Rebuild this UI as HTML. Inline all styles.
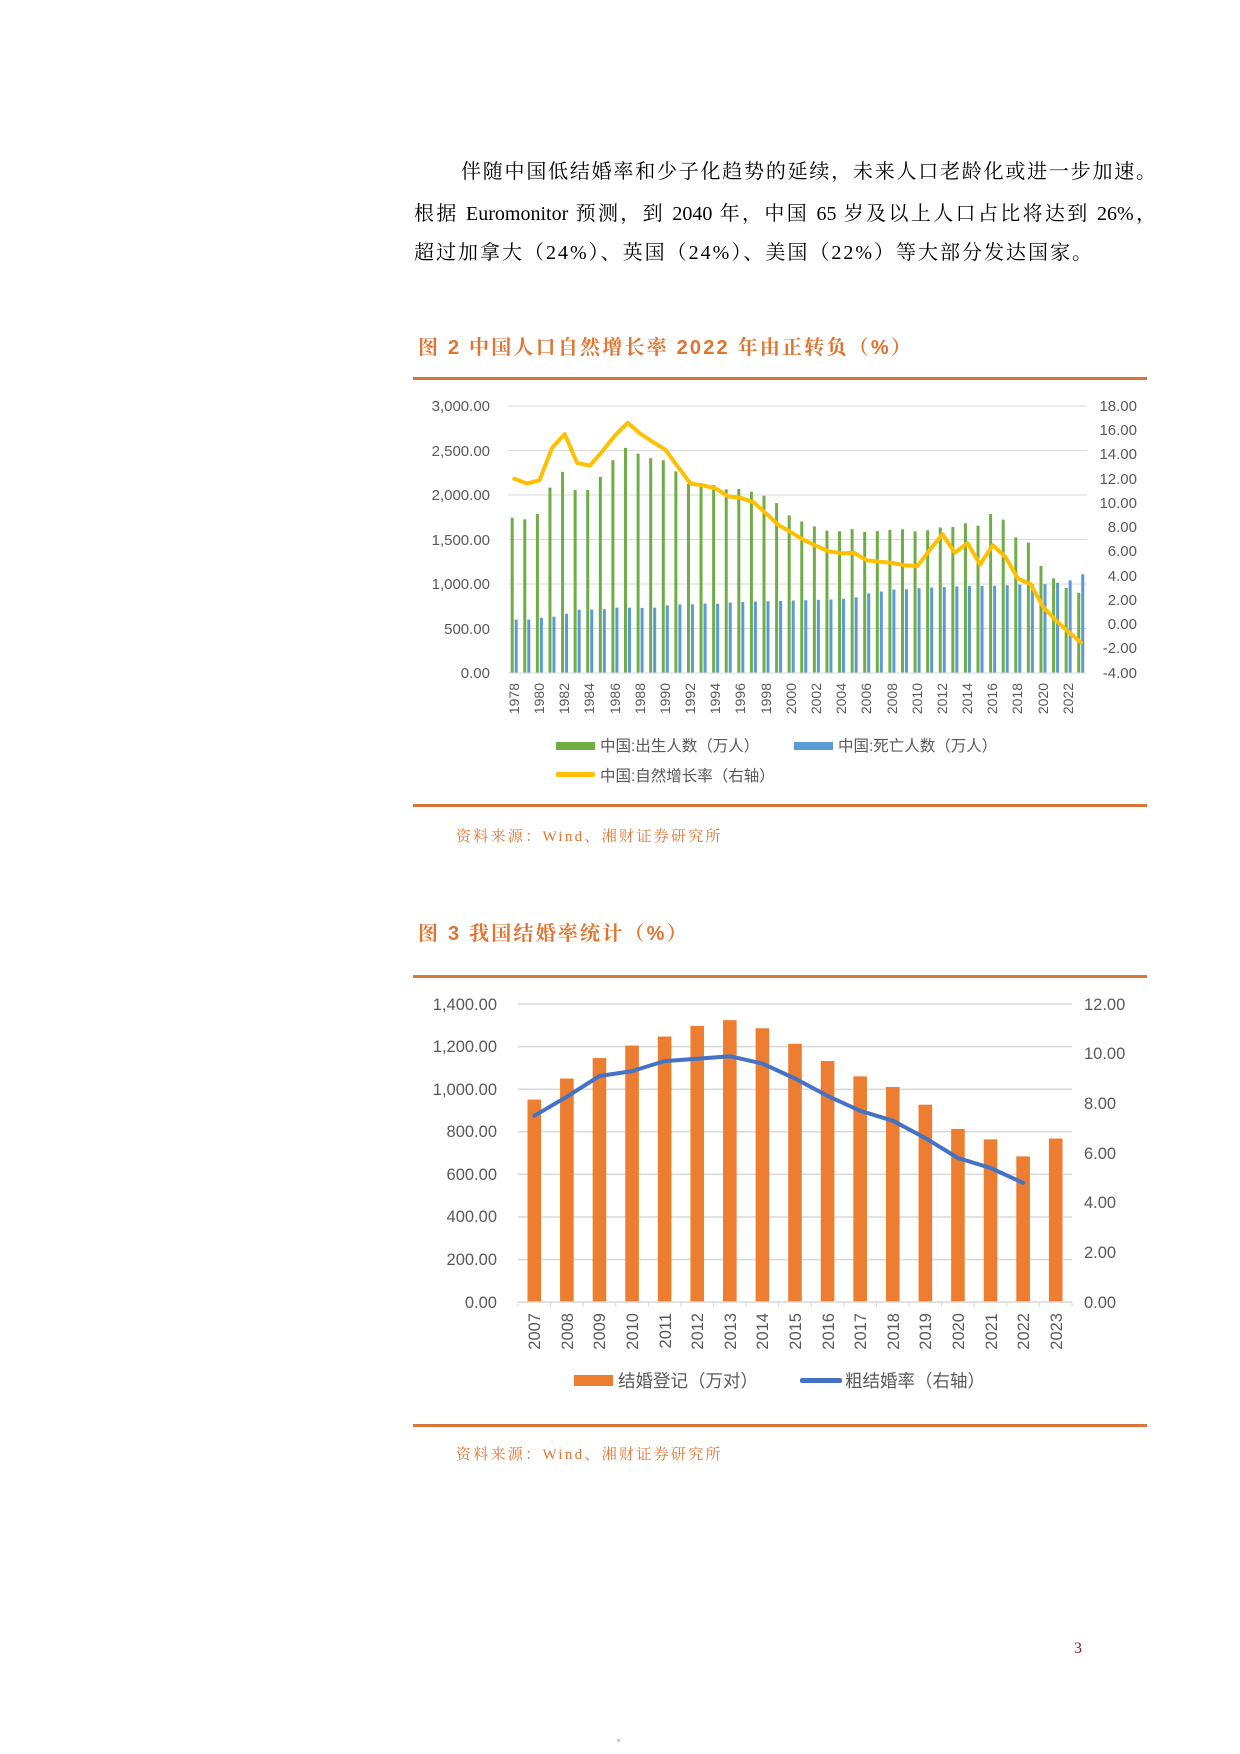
<!DOCTYPE html>
<html><head><meta charset="utf-8">
<style>
html,body{margin:0;padding:0;background:#fff;}
body{width:1240px;height:1754px;position:relative;overflow:hidden;}
.p{position:absolute;left:414px;width:742px;font-family:"Liberation Serif","Noto Serif CJK SC",serif;font-size:20px;color:#000;text-align:justify;text-align-last:justify;white-space:nowrap;}
svg{position:absolute;left:0;top:0;}
</style></head><body>
<div class="p" style="top:155px;left:461px;width:695px;">伴随中国低结婚率和少子化趋势的延续，未来人口老龄化或进一步加速。</div>
<div class="p" style="top:197px;">根据 Euromonitor 预测，到 2040 年，中国 65 岁及以上人口占比将达到 26%，</div>
<div class="p" style="top:236px;text-align-last:left;letter-spacing:2px;">超过加拿大（24%）、英国（24%）、美国（22%）等大部分发达国家。</div>

<svg id="s" width="1240" height="1754" xmlns="http://www.w3.org/2000/svg" font-family="Liberation Sans, Noto Sans CJK SC, sans-serif">
<text x="418" y="354" font-size="20" font-weight="bold" fill="#E07430" letter-spacing="2.2" font-family="Liberation Sans, Noto Serif CJK SC, serif">图 2 中国人口自然增长率 2022 年由正转负（%）</text>
<rect x="413" y="377" width="734" height="3" fill="#D9773A"/>
<g id="c1grid"></g>
<g font-size="15" fill="#595959" text-anchor="end">
<text x="490" y="411">3,000.00</text><text x="490" y="456">2,500.00</text><text x="490" y="500">2,000.00</text><text x="490" y="545">1,500.00</text><text x="490" y="589">1,000.00</text><text x="490" y="634">500.00</text><text x="490" y="678">0.00</text>
</g>
<g font-size="15" fill="#595959" text-anchor="end">
<text x="1137" y="411">18.00</text><text x="1137" y="435">16.00</text><text x="1137" y="459">14.00</text><text x="1137" y="484">12.00</text><text x="1137" y="508">10.00</text><text x="1137" y="532">8.00</text><text x="1137" y="556">6.00</text><text x="1137" y="581">4.00</text><text x="1137" y="605">2.00</text><text x="1137" y="629">0.00</text><text x="1137" y="653">-2.00</text><text x="1137" y="678">-4.00</text>
</g>
<g id="c1bars"></g>
<g font-size="14" fill="#595959" text-anchor="end">
<text transform="translate(519,683) rotate(-90)">1978</text><text transform="translate(544,683) rotate(-90)">1980</text><text transform="translate(569,683) rotate(-90)">1982</text><text transform="translate(594,683) rotate(-90)">1984</text><text transform="translate(620,683) rotate(-90)">1986</text><text transform="translate(645,683) rotate(-90)">1988</text><text transform="translate(670,683) rotate(-90)">1990</text><text transform="translate(695,683) rotate(-90)">1992</text><text transform="translate(720,683) rotate(-90)">1994</text><text transform="translate(745,683) rotate(-90)">1996</text><text transform="translate(771,683) rotate(-90)">1998</text><text transform="translate(796,683) rotate(-90)">2000</text><text transform="translate(821,683) rotate(-90)">2002</text><text transform="translate(846,683) rotate(-90)">2004</text><text transform="translate(871,683) rotate(-90)">2006</text><text transform="translate(897,683) rotate(-90)">2008</text><text transform="translate(922,683) rotate(-90)">2010</text><text transform="translate(947,683) rotate(-90)">2012</text><text transform="translate(972,683) rotate(-90)">2014</text><text transform="translate(997,683) rotate(-90)">2016</text><text transform="translate(1022,683) rotate(-90)">2018</text><text transform="translate(1048,683) rotate(-90)">2020</text><text transform="translate(1073,683) rotate(-90)">2022</text>
</g>
<rect x="556" y="742" width="39" height="8" fill="#70AD47"/>
<text x="600" y="751" font-size="15.5" fill="#595959">中国:出生人数（万人）</text>
<rect x="794" y="742" width="39" height="8" fill="#5B9BD5"/>
<text x="838" y="751" font-size="15.5" fill="#595959">中国:死亡人数（万人）</text>
<rect x="556" y="772" width="39" height="5" rx="2" fill="#FFC000"/>
<text x="600" y="781" font-size="15.5" fill="#595959">中国:自然增长率（右轴）</text>
<rect x="413" y="804" width="734" height="3" fill="#D9773A"/>
<text x="456" y="841" font-size="15" fill="#E07430" letter-spacing="2.3" font-family="Liberation Serif, Noto Serif CJK SC, serif">资料来源：Wind、湘财证券研究所</text>

<text x="418" y="940" font-size="20" font-weight="bold" fill="#E07430" letter-spacing="2.2" font-family="Liberation Sans, Noto Serif CJK SC, serif">图 3 我国结婚率统计（%）</text>
<rect x="413" y="975" width="734" height="3" fill="#D9773A"/>
<g id="c2grid"></g>
<g font-size="16.5" fill="#595959" text-anchor="end">
<text x="497" y="1010">1,400.00</text><text x="497" y="1052">1,200.00</text><text x="497" y="1095">1,000.00</text><text x="497" y="1137">800.00</text><text x="497" y="1180">600.00</text><text x="497" y="1222">400.00</text><text x="497" y="1265">200.00</text><text x="497" y="1308">0.00</text>
</g>
<g font-size="16.5" fill="#595959">
<text x="1084" y="1010">12.00</text><text x="1084" y="1059">10.00</text><text x="1084" y="1109">8.00</text><text x="1084" y="1159">6.00</text><text x="1084" y="1208">4.00</text><text x="1084" y="1258">2.00</text><text x="1084" y="1308">0.00</text>
</g>
<g id="c2bars"></g>
<g font-size="16.5" fill="#595959" text-anchor="end">
<text transform="translate(540,1313) rotate(-90)">2007</text><text transform="translate(573,1313) rotate(-90)">2008</text><text transform="translate(605,1313) rotate(-90)">2009</text><text transform="translate(638,1313) rotate(-90)">2010</text><text transform="translate(671,1313) rotate(-90)">2011</text><text transform="translate(703,1313) rotate(-90)">2012</text><text transform="translate(736,1313) rotate(-90)">2013</text><text transform="translate(768,1313) rotate(-90)">2014</text><text transform="translate(801,1313) rotate(-90)">2015</text><text transform="translate(834,1313) rotate(-90)">2016</text><text transform="translate(866,1313) rotate(-90)">2017</text><text transform="translate(899,1313) rotate(-90)">2018</text><text transform="translate(931,1313) rotate(-90)">2019</text><text transform="translate(964,1313) rotate(-90)">2020</text><text transform="translate(997,1313) rotate(-90)">2021</text><text transform="translate(1029,1313) rotate(-90)">2022</text><text transform="translate(1062,1313) rotate(-90)">2023</text>
</g>
<rect x="574" y="1375" width="39" height="11" fill="#ED7D31"/>
<text x="618" y="1387" font-size="17.5" fill="#595959">结婚登记（万对）</text>
<rect x="800" y="1378" width="42" height="5" rx="2" fill="#4472C4"/>
<text x="845" y="1387" font-size="17.5" fill="#595959">粗结婚率（右轴）</text>
<rect x="413" y="1424" width="734" height="3" fill="#D9773A"/>
<text x="456" y="1459" font-size="15" fill="#E07430" letter-spacing="2.3" font-family="Liberation Serif, Noto Serif CJK SC, serif">资料来源：Wind、湘财证券研究所</text>

<text x="1074" y="1653" font-size="16" fill="#8B1A2B" font-family="Liberation Serif, serif">3</text>
<rect x="617" y="1739" width="3" height="3" fill="#ccc"/>
</svg>
<script>
var NS="http://www.w3.org/2000/svg";
function el(p,t,a){var e=document.createElementNS(NS,t);for(var k in a)e.setAttribute(k,a[k]);document.getElementById(p).appendChild(e);return e;}
for(var i=0;i<7;i++){var y=406+i*44.5;el("c1grid","line",{x1:508,x2:1087,y1:y,y2:y,stroke:"#D9D9D9","stroke-width":1});}
var b=[1745,1726,1787,2082,2260,2058,2056,2202,2391,2529,2464,2414,2391,2265,2125,2132,2110,2063,2067,2038,1991,1909,1771,1702,1647,1599,1593,1617,1585,1595,1608,1615,1592,1604,1635,1640,1683,1655,1786,1723,1523,1465,1202,1062,956,902];
var d=[599,600,621,633,666,711,713,717,735,734,732,734,761,770,772,781,778,792,799,803,807,809,814,818,823,826,834,851,894,915,938,941,953,960,966,972,977,977,980,986,993,998,998,1014,1041,1110];
var r=[12.00,11.61,11.87,14.55,15.68,13.29,13.08,14.26,15.57,16.61,15.73,15.04,14.39,12.98,11.60,11.45,11.21,10.55,10.42,10.06,9.14,8.18,7.58,6.95,6.45,6.01,5.87,5.89,5.28,5.17,5.08,4.87,4.79,6.13,7.43,5.90,6.71,4.93,6.53,5.58,3.78,3.32,1.45,0.34,-0.60,-1.48];
var pts=[];
for(var i=0;i<46;i++){var c=508+12.59*(i+0.5);var hb=b[i]*0.089,hd=d[i]*0.089;
el("c1bars","rect",{x:c-3.6,y:673-hb,width:3,height:hb,fill:"#70AD47"});
el("c1bars","rect",{x:c+0.4,y:673-hd,width:3,height:hd,fill:"#5B9BD5"});
pts.push(c.toFixed(1)+","+(673-(r[i]+4)*12.14).toFixed(1));}
el("c1bars","line",{x1:508,x2:1087,y1:673,y2:673,stroke:"#D9D9D9"});
el("c1bars","polyline",{points:pts.join(" "),fill:"none",stroke:"#FFC000","stroke-width":4,"stroke-linejoin":"round","stroke-linecap":"round"});
for(var i=0;i<7;i++){var y=1004+i*42.6;el("c2grid","line",{x1:518,x2:1072,y1:y,y2:y,stroke:"#D9D9D9","stroke-width":1.5});}
var m=[951,1050,1146,1205,1247,1297,1324,1286,1213,1132,1060,1010,927,813,764,684,768];
var cr=[7.5,8.27,9.1,9.3,9.7,9.8,9.9,9.6,9.0,8.3,7.7,7.3,6.6,5.8,5.4,4.8];
var p2=[],w=554/17;
for(var i=0;i<17;i++){var c=518+w*(i+0.5);var h=m[i]*298/1400;
el("c2bars","rect",{x:c-6.8,y:1302-h,width:13.6,height:h,fill:"#ED7D31"});
if(i<16)p2.push(c.toFixed(1)+","+(1302-cr[i]*24.83).toFixed(1));}
el("c2bars","line",{x1:518,x2:1072,y1:1302,y2:1302,stroke:"#D9D9D9","stroke-width":1.5});
for(var i=0;i<=17;i++){var x=518+w*i;el("c2bars","line",{x1:x,x2:x,y1:1302,y2:1307,stroke:"#D9D9D9"});}
el("c2bars","polyline",{points:p2.join(" "),fill:"none",stroke:"#4472C4","stroke-width":4,"stroke-linejoin":"round","stroke-linecap":"round"});
</script>
</body></html>
